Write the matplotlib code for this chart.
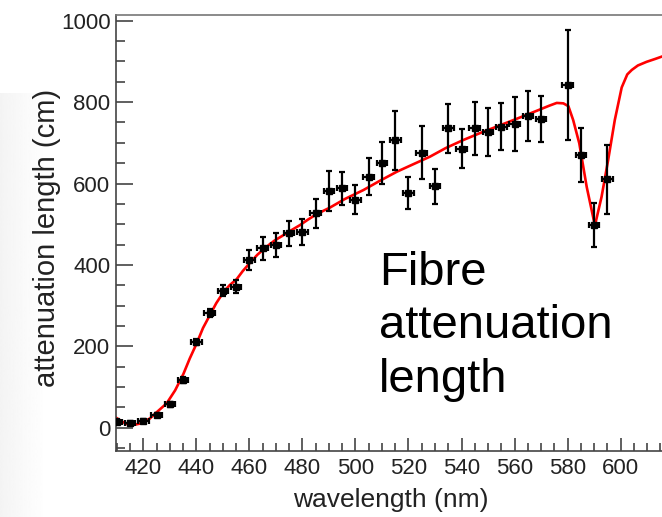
#plot.py
#
#Fibre attenuation length vs wavelength, data points with errors and fitted curve
#
import matplotlib.pyplot as plt
import numpy as np
from matplotlib.ticker import MultipleLocator

plt.rcParams['font.family'] = ['Liberation Sans', 'DejaVu Sans']

#measured points (nm, cm)
wl = [410, 415, 420, 425, 430, 435, 440, 445, 450, 455, 460, 465, 470, 475, 480, 485,
      490, 495, 500, 505, 510, 515, 520, 525, 530, 535, 540, 545, 550, 555, 560, 565,
      570, 580, 585, 590, 595]
att = [15, 11, 17, 31, 58, 117, 211, 283, 337, 346, 412, 441, 449, 478, 481, 527,
       582, 588, 560, 617, 650, 706, 577, 676, 593, 736, 686, 736, 727, 740, 746, 766,
       759, 842, 670, 498, 610]
att_err = [6, 5, 5, 5, 6, 7, 8, 10, 13, 16, 25, 28, 30, 31, 31, 36,
           50, 41, 36, 46, 52, 72, 39, 65, 43, 60, 48, 65, 59, 57, 66, 61,
           57, 134, 66, 53, 84]
wl_err = 2.0

#fit curve
fit_wl = [409.7, 412, 414, 416.2, 418.5, 420.5, 422.5, 425, 428.8, 432, 435.1, 437.5,
          440.1, 442.5, 445.2, 447.5, 450.2, 452.5, 455.2, 457.5, 460.2, 463, 466.5,
          469.5, 472.8, 476, 479.1, 482, 485.4, 490.4, 496, 503, 509, 515.6, 522,
          528.1, 534, 540.7, 547, 553.3, 560, 565.8, 570, 573, 575.9, 578.4, 580.3,
          582.1, 584.4, 587.2, 590.3, 592.8, 595.3, 597.8, 600.4, 602.5, 604.2, 606.5,
          609.8, 613, 615.6]
fit_att = [25, 15, 9, 7, 10, 16, 23, 38, 60, 92, 132, 170,
           207, 245, 278, 306, 333, 350, 365, 385, 405, 425, 445,
           460, 473, 486, 498, 511, 525, 541, 562, 584, 606, 629, 648,
           666, 687, 707, 724, 740, 757, 772, 783, 791, 798, 797, 790,
           756, 699, 592, 497, 567, 658, 756, 836, 868, 879, 890,
           899, 906, 912]

fig = plt.figure(figsize=(6.62, 5.17), dpi=100)

#faint slide background on the left
bg = fig.add_axes([0, 0, 0.07, 0.82], zorder=-5)
grad = np.linspace(0.955, 1.0, 64).reshape(1, -1)
bg.imshow(grad, cmap='gray', vmin=0, vmax=1, aspect='auto', extent=[0, 1, 0, 1])
bg.axis('off')

ax = fig.add_axes([116/662, (517-451)/517, 1 - 116/662, (451-15)/517])
ax.set_facecolor('white')

ax.plot(fit_wl, fit_att, color='#ff0000', lw=1.9, zorder=2)
ax.errorbar(wl, att, yerr=att_err, xerr=wl_err, fmt='s', color='black', ms=3.8,
            elinewidth=1.6, capsize=2.2, capthick=1.6, zorder=3)

ax.set_xlim(409.7, 615.6)
ax.set_ylim(-57, 1014)
ax.xaxis.set_major_locator(MultipleLocator(20))
ax.xaxis.set_minor_locator(MultipleLocator(5))
ax.yaxis.set_major_locator(MultipleLocator(200))
ax.yaxis.set_minor_locator(MultipleLocator(50))

ax.tick_params(axis='both', which='both', direction='in', colors='#444444',
               labelcolor='#222222', labelsize=16, width=1.2)
ax.tick_params(axis='y', which='major', length=12, pad=4)
ax.tick_params(axis='y', which='minor', length=6.5)
ax.tick_params(axis='x', which='major', length=9.5, pad=5)
ax.tick_params(axis='x', which='minor', length=5.8)

ax.spines['right'].set_visible(False)
for s in ['left', 'bottom']:
    ax.spines[s].set_color('#444444')
    ax.spines[s].set_linewidth(1.2)
ax.spines['top'].set_color('#777777')
ax.spines['top'].set_linewidth(1.2)

fig.text(391/662, 1 - 500/517, 'wavelength (nm)', fontsize=19, ha='center', va='center',
         color='#222222')
fig.text(47/662, 1 - 238/517, 'attenuation length (cm)', fontsize=21, ha='center',
         va='center', rotation=90, color='#222222')

#baseline of the last line
ax.text(509, 88, 'Fibre\nattenuation\nlength', fontsize=34, ha='left', va='baseline',
        linespacing=1.28, color='black')

plt.savefig('out.png', dpi=100)
